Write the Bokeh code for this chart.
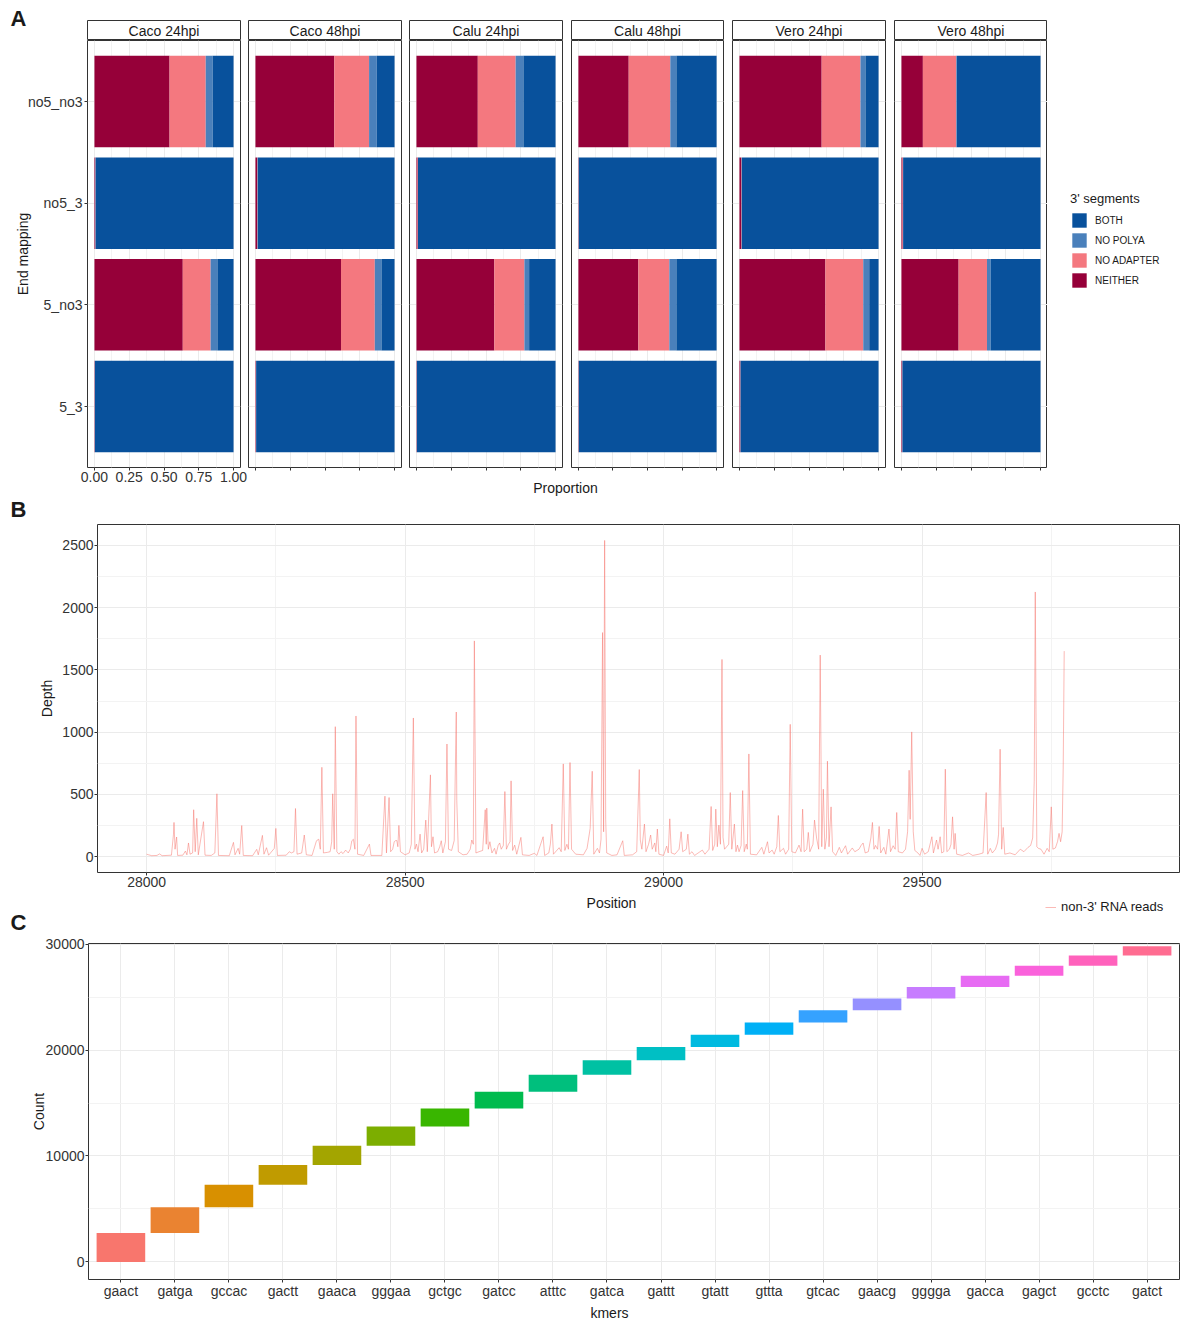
import numpy as np
from bokeh.plotting import figure
from bokeh.models import (Range1d, FixedTicker, LinearAxis, Grid, Legend, LegendItem,
                          ColumnDataSource, NumeralTickFormatter)
from bokeh.layouts import row, column
from bokeh.embed import file_html
from bokeh.resources import INLINE
from bokeh.core.properties import value

FONT = "Liberation Sans"

# ---------------- Panel A data ----------------
samples = ["Caco 24hpi", "Caco 48hpi", "Calu 24hpi", "Calu 48hpi", "Vero 24hpi", "Vero 48hpi"]
end_mapping = ["no5_no3", "no5_3", "5_no3", "5_3"]
segments = ["NEITHER", "NO ADAPTER", "NO POLYA", "BOTH"]
# proportions: one row per sample, columns follow end_mapping
neither = [[0.540, 0.005, 0.635, 0.002],
           [0.567, 0.012, 0.615, 0.003],
           [0.441, 0.008, 0.560, 0.002],
           [0.364, 0.002, 0.434, 0.002],
           [0.591, 0.012, 0.618, 0.006],
           [0.154, 0.008, 0.411, 0.005]]
no_adapter = [[0.260, 0.003, 0.200, 0.001],
              [0.250, 0.003, 0.243, 0.002],
              [0.272, 0.003, 0.216, 0.001],
              [0.301, 0.001, 0.224, 0.001],
              [0.279, 0.004, 0.272, 0.002],
              [0.240, 0.004, 0.204, 0.002]]
no_polya = [[0.050, 0.000, 0.049, 0.000],
            [0.055, 0.001, 0.048, 0.000],
            [0.056, 0.000, 0.034, 0.000],
            [0.044, 0.000, 0.051, 0.000],
            [0.036, 0.000, 0.043, 0.000],
            [0.004, 0.000, 0.027, 0.000]]
both = [[0.150, 0.992, 0.116, 0.997],
        [0.128, 0.984, 0.094, 0.995],
        [0.231, 0.989, 0.190, 0.997],
        [0.291, 0.997, 0.291, 0.997],
        [0.094, 0.984, 0.067, 0.992],
        [0.602, 0.988, 0.358, 0.993]]
prop_ticks = [0.0, 0.25, 0.5, 0.75, 1.0]

# ---------------- Panel B data ----------------
depth_pos = [
    28000, 28004, 28010, 28020, 28025, 28030, 28048, 28052, 28053, 28055,
    28058, 28060, 28070, 28075, 28078, 28081, 28084, 28089, 28091, 28094,
    28097, 28100, 28110, 28113, 28125, 28132, 28136, 28139, 28160, 28168,
    28171, 28177, 28180, 28184, 28187, 28205, 28213, 28216, 28224, 28227,
    28232, 28236, 28247, 28250, 28253, 28270, 28276, 28280, 28285, 28288,
    28291, 28300, 28305, 28309, 28320, 28328, 28330, 28333, 28336, 28339,
    28342, 28350, 28355, 28358, 28360, 28363, 28365, 28368, 28372, 28376,
    28380, 28385, 28390, 28394, 28397, 28400, 28403, 28405, 28408, 28420,
    28431, 28434, 28455, 28461, 28464, 28469, 28472, 28476, 28479, 28481,
    28484, 28486, 28488, 28491, 28500, 28508, 28512, 28516, 28519, 28522,
    28525, 28529, 28532, 28536, 28540, 28543, 28549, 28551, 28554, 28557,
    28563, 28567, 28570, 28573, 28578, 28581, 28584, 28590, 28595, 28599,
    28600, 28603, 28612, 28620, 28626, 28629, 28632, 28634, 28637, 28643,
    28650, 28655, 28657, 28658, 28661, 28664, 28668, 28673, 28676, 28680,
    28683, 28686, 28690, 28693, 28696, 28700, 28703, 28705, 28708, 28712,
    28716, 28724, 28727, 28740, 28750, 28755, 28767, 28770, 28778, 28781,
    28784, 28787, 28798, 28802, 28806, 28809, 28813, 28816, 28819, 28822,
    28826, 28830, 28845, 28852, 28858, 28862, 28865, 28872, 28876, 28879,
    28882, 28884, 28886, 28888, 28890, 28900, 28910, 28921, 28924, 28940,
    28948, 28953, 28955, 28958, 28963, 28966, 28971, 28975, 28978, 28983,
    28985, 28988, 28991, 29000, 29006, 29009, 29012, 29015, 29022, 29030,
    29034, 29037, 29044, 29047, 29050, 29055, 29060, 29075, 29080, 29088,
    29092, 29095, 29099, 29101, 29104, 29107, 29110, 29113, 29115, 29118,
    29122, 29126, 29129, 29132, 29137, 29140, 29143, 29146, 29150, 29153,
    29156, 29160, 29162, 29165, 29168, 29180, 29190, 29194, 29201, 29204,
    29210, 29214, 29219, 29222, 29225, 29232, 29236, 29242, 29245, 29248,
    29255, 29262, 29266, 29269, 29272, 29277, 29280, 29283, 29289, 29292,
    29296, 29300, 29303, 29306, 29309, 29312, 29315, 29317, 29320, 29324,
    29327, 29333, 29340, 29344, 29352, 29356, 29365, 29370, 29378, 29382,
    29386, 29390, 29396, 29401, 29404, 29407, 29410, 29414, 29417, 29420,
    29426, 29430, 29436, 29439, 29444, 29448, 29451, 29454, 29462, 29468,
    29472, 29475, 29477, 29480, 29483, 29486, 29492, 29496, 29500, 29505,
    29512, 29519, 29522, 29528, 29531, 29535, 29538, 29542, 29545, 29548,
    29553, 29556, 29559, 29562, 29564, 29567, 29578, 29590, 29598, 29610,
    29618, 29624, 29627, 29632, 29636, 29642, 29646, 29648, 29651, 29654,
    29657, 29660, 29670, 29680, 29690, 29697, 29705, 29710, 29714, 29717,
    29719, 29722, 29725, 29730, 29736, 29742, 29746, 29750, 29753, 29758,
    29762, 29765, 29768, 29771, 29773, 29775,
]
depth_val = [
    20, 15, 8, 10, 22, 8, 12, 180, 275, 60,
    158, 10, 12, 45, 15, 110, 20, 30, 377, 40,
    308, 15, 281, 12, 10, 30, 505, 10, 8, 115,
    15, 67, 20, 250, 10, 8, 59, 15, 171, 20,
    72, 12, 67, 227, 10, 12, 40, 30, 40, 387,
    20, 30, 174, 15, 10, 120, 134, 140, 60, 718,
    30, 35, 40, 120, 505, 60, 1044, 40, 20, 40,
    25, 53, 30, 60, 128, 140, 60, 1130, 20, 10,
    101, 10, 10, 486, 30, 475, 40, 60, 120, 128,
    130, 80, 251, 40, 15, 30, 100, 1114, 60, 101,
    40, 181, 30, 60, 294, 40, 657, 80, 160, 30,
    40, 80, 128, 30, 120, 905, 60, 50, 130, 1162,
    451, 40, 15, 20, 60, 134, 100, 1733, 30, 40,
    50, 377, 100, 390, 60, 120, 30, 67, 20, 90,
    110, 60, 90, 523, 60, 100, 120, 609, 50, 93,
    20, 155, 15, 10, 27, 10, 160, 10, 30, 100,
    262, 20, 72, 40, 745, 50, 100, 60, 756, 60,
    40, 20, 15, 67, 227, 686, 20, 67, 30, 140,
    1800, 200, 2540, 300, 30, 10, 15, 128, 10, 15,
    40, 700, 134, 60, 262, 40, 100, 174, 60, 110,
    40, 222, 20, 10, 85, 30, 304, 30, 20, 60,
    200, 40, 60, 181, 20, 40, 10, 53, 20, 60,
    403, 50, 100, 382, 80, 254, 100, 1584, 155, 60,
    80, 100, 515, 60, 262, 40, 93, 40, 90, 531,
    40, 101, 60, 825, 20, 15, 75, 20, 120, 30,
    53, 20, 80, 331, 40, 67, 20, 60, 1063, 40,
    30, 93, 40, 382, 40, 60, 195, 40, 100, 294,
    150, 60, 1619, 80, 542, 60, 150, 767, 80, 400,
    40, 10, 75, 30, 88, 20, 70, 40, 60, 90,
    110, 30, 40, 150, 275, 60, 90, 60, 243, 30,
    75, 20, 222, 40, 88, 60, 355, 40, 30, 60,
    200, 694, 300, 1002, 200, 50, 30, 10, 67, 20,
    40, 160, 30, 134, 60, 160, 30, 40, 703, 40,
    60, 100, 320, 60, 187, 20, 10, 30, 10, 20,
    30, 515, 20, 67, 30, 60, 110, 180, 863, 60,
    235, 20, 30, 15, 60, 40, 75, 90, 150, 604,
    2126, 80, 67, 60, 20, 67, 40, 400, 60, 70,
    120, 187, 120, 200, 703, 1651,
]
depth_xticks = [28000, 28500, 29000, 29500]
depth_yticks = [0, 500, 1000, 1500, 2000, 2500]

# ---------------- Panel C data ----------------
kmers = ["gaact", "gatga", "gccac", "gactt", "gaaca", "gggaa", "gctgc", "gatcc", "atttc", "gatca",
         "gattt", "gtatt", "gttta", "gtcac", "gaacg", "gggga", "gacca", "gagct", "gcctc", "gatct"]
kmer_counts = [2720, 2440, 2120, 1875, 1820, 1810, 1690, 1595, 1595, 1380,
               1245, 1155, 1160, 1155, 1095, 1090, 1070, 940, 965, 870]
count_ticks = [0, 10000, 20000, 30000]

# ---------------- styles ----------------
seg_colors = {"NEITHER": "#960039", "NO ADAPTER": "#F4787F", "NO POLYA": "#4A80BB", "BOTH": "#08519C"}
kmer_palette = ["#F8766D", "#EA8331", "#D89000", "#C09B00", "#A3A500", "#7CAE00", "#39B600",
                "#00BB4E", "#00BF7D", "#00C1A3", "#00BFC4", "#00BAE0", "#00B0F6", "#35A2FF",
                "#9590FF", "#C77CFF", "#E76BF3", "#FA62DB", "#FF62BC", "#FF6C91"]
DEPTH_COLOR = "#F8766D"
DEPTH_ALPHA = 0.5
GRID_MAJ = "#EBEBEB"
GRID_MIN = "#F3F3F3"
BORDER = "#333333"
TICK_TXT = "#333333"
TITLE_TXT = "#1A1A1A"
TOTAL_W = 1180
NAN = float("nan")


def drop_default_grids(f):
    f.center = [c for c in f.center if not isinstance(c, Grid)]


def new_fig(**kw):
    p = figure(toolbar_location=None, output_backend="svg",
               x_axis_location=None, y_axis_location=None, **kw)
    drop_default_grids(p)
    p.outline_line_color = BORDER
    p.outline_line_width = 1
    p.background_fill_color = "white"
    return p


def head_fig(w, h, margin_top=0):
    """Transparent figure whose frame fills it; used for free text (panel letters, titles, legends)."""
    f = figure(toolbar_location=None, output_backend="svg", x_axis_location=None, y_axis_location=None,
               frame_width=w, frame_height=h, min_border_left=0, min_border_right=0,
               min_border_top=0, min_border_bottom=0,
               x_range=Range1d(0, w), y_range=Range1d(h, 0))
    drop_default_grids(f)
    f.outline_line_color = None
    f.background_fill_color = None
    f.border_fill_color = None
    if margin_top:
        f.margin = (margin_top, 0, 0, 0)
    return f


def put_text(f, x, y, txt, size="14px", style="normal", align="center"):
    f.text(x=[x], y=[y], text=[txt], text_align=align, text_baseline="middle",
           text_font=value(FONT), text_font_size=size, text_font_style=style, text_color=TITLE_TXT)


def style_axis(ax, tick_out=3, standoff=0):
    ax.axis_line_color = None
    ax.major_tick_line_color = BORDER
    ax.major_tick_in = 0
    ax.major_tick_out = tick_out
    ax.minor_tick_line_color = None
    ax.major_label_standoff = standoff
    ax.major_label_text_font = FONT
    ax.major_label_text_font_size = "14px"
    ax.major_label_text_color = TICK_TXT
    ax.axis_label_text_font = FONT
    ax.axis_label_text_font_size = "14px"
    ax.axis_label_text_font_style = "normal"
    ax.axis_label_text_color = TITLE_TXT


def add_grid(p, dim, ticker):
    g = Grid(dimension=dim, ticker=ticker, grid_line_color=GRID_MAJ, grid_line_width=1,
             minor_grid_line_color=GRID_MIN, minor_grid_line_width=1)
    p.add_layout(g)


# ---------------- Panel A ----------------
headA = head_fig(TOTAL_W, 32)
put_text(headA, 10, 18, "A", size="22px", style="bold", align="left")

FRAME_W = [153, 153, 153, 152, 153, 153]
LEFT_B = [87, 0, 0, 0, 0, 0]
RIGHT_B = [8, 8, 9, 9, 9, 0]
prop_arrays = {"NEITHER": neither, "NO ADAPTER": no_adapter, "NO POLYA": no_polya, "BOTH": both}
PANEL_H = 427
PANEL_BOTTOM = 21
STRIP_H = 20

cols = []
for k, sample in enumerate(samples):
    s = new_fig(frame_width=FRAME_W[k], frame_height=STRIP_H, x_range=Range1d(0, 1), y_range=Range1d(0, 1),
                min_border_left=LEFT_B[k], min_border_right=RIGHT_B[k], min_border_top=0, min_border_bottom=0)
    s.border_fill_color = None
    s.text(x=[0.5], y=[0.5], text=[sample], text_align="center", text_baseline="middle",
           text_font=value(FONT), text_font_size="14px", text_color=TITLE_TXT)

    p = new_fig(frame_width=FRAME_W[k], frame_height=PANEL_H,
                x_range=Range1d(-0.05, 1.05), y_range=Range1d(len(end_mapping) - 0.4, -0.6),
                min_border_left=LEFT_B[k], min_border_right=RIGHT_B[k], min_border_top=0,
                min_border_bottom=PANEL_BOTTOM)
    xt = FixedTicker(ticks=prop_ticks, minor_ticks=[0.125, 0.375, 0.625, 0.875])
    yt = FixedTicker(ticks=list(range(len(end_mapping))))
    add_grid(p, 0, xt)
    add_grid(p, 1, yt)

    xa = LinearAxis(ticker=xt)
    style_axis(xa, tick_out=3, standoff=0)
    if k == 0:
        xa.formatter = NumeralTickFormatter(format="0.00")
    else:
        xa.major_label_overrides = {t: "" for t in prop_ticks}
    p.add_layout(xa, "below")
    if k == 0:
        ya = LinearAxis(ticker=yt, axis_label="End mapping",
                        major_label_overrides={i: m for i, m in enumerate(end_mapping)})
        style_axis(ya, tick_out=3, standoff=2)
        ya.axis_label_standoff = -6
        p.add_layout(ya, "left")

    cum = np.zeros(len(end_mapping))
    for seg in segments:
        vals = np.array(prop_arrays[seg][k])
        src = ColumnDataSource(dict(y=list(range(len(end_mapping))), left=cum, right=cum + vals))
        p.hbar(y="y", left="left", right="right", height=0.9, source=src,
               fill_color=seg_colors[seg], line_color=None)
        cum = cum + vals
    cols.append(column(s, p))

# legend of panel A in its own transparent figure to the right of the facets
legA_w = TOTAL_W - (sum(FRAME_W) + sum(LEFT_B) + sum(RIGHT_B))
legA_h = STRIP_H + PANEL_H + PANEL_BOTTOM
legA = head_fig(legA_w, legA_h)
leg_items = []
for seg in segments[::-1]:
    # legend proxy: a single NaN bar (draws nothing, only provides the legend swatch)
    r = legA.hbar(y=[NAN], left=[NAN], right=[NAN], height=0.9, fill_color=seg_colors[seg], line_color=None)
    leg_items.append(LegendItem(label=seg, renderers=[r]))
legA.add_layout(Legend(items=leg_items, location=(23, legA_h - 269), title="3' segments",
                       title_text_font=FONT, title_text_font_size="13px", title_text_font_style="normal",
                       title_text_color=TITLE_TXT, title_standoff=5, label_text_font=FONT,
                       label_text_font_size="10px", label_text_color=TITLE_TXT, glyph_width=18,
                       glyph_height=18, label_height=18, label_standoff=7, spacing=2, padding=0, margin=0,
                       border_line_color=None, background_fill_alpha=0))

rowA = row(*cols, legA)
rowA.margin = (-12, 0, 0, 0)

# ---------------- Panel B ----------------
headB = head_fig(TOTAL_W, 48)
put_text(headB, 565, 11, "Proportion")
put_text(headB, 10, 33, "B", size="22px", style="bold", align="left")
rowHB = row(headB)
rowHB.margin = (-12, 0, 0, 0)

pb = new_fig(frame_width=TOTAL_W - 98, frame_height=348, x_range=Range1d(27905, 29998),
             y_range=Range1d(-127, 2668),
             min_border_left=97, min_border_right=1, min_border_top=0, min_border_bottom=21)
bxt = FixedTicker(ticks=depth_xticks, minor_ticks=[28250, 28750, 29250, 29750])
byt = FixedTicker(ticks=depth_yticks, minor_ticks=[250, 750, 1250, 1750, 2250])
add_grid(pb, 0, bxt)
add_grid(pb, 1, byt)
bxa = LinearAxis(ticker=bxt)
style_axis(bxa, tick_out=3, standoff=0)
pb.add_layout(bxa, "below")
bya = LinearAxis(ticker=byt, axis_label="Depth")
style_axis(bya, tick_out=3, standoff=0)
bya.axis_label_standoff = 4
pb.add_layout(bya, "left")
pb.line(x=depth_pos, y=depth_val, line_color=DEPTH_COLOR, line_alpha=DEPTH_ALPHA, line_width=1)

# x title of B, legend of B and panel letter C
HC_H = 42
headC = head_fig(TOTAL_W, HC_H)
put_text(headC, 611, 9, "Position")
put_text(headC, 10, 29, "C", size="22px", style="bold", align="left")
rleg = headC.line(x=[NAN], y=[NAN], line_color=DEPTH_COLOR, line_alpha=DEPTH_ALPHA, line_width=1)
headC.add_layout(Legend(items=[LegendItem(label="non-3' RNA reads", renderers=[rleg])],
                        location=(1045, HC_H - 21), label_text_font=FONT, label_text_font_size="13px",
                        label_text_color=TITLE_TXT, glyph_width=11, glyph_height=14, label_height=14,
                        label_standoff=5, padding=0, margin=0, border_line_color=None,
                        background_fill_alpha=0))

# ---------------- Panel C ----------------
pc = new_fig(frame_width=TOTAL_W - 89, frame_height=336, x_range=Range1d(-0.6, len(kmers) - 0.4),
             y_range=Range1d(-1660, 30056),
             min_border_left=88, min_border_right=1, min_border_top=8, min_border_bottom=21)
cxt = FixedTicker(ticks=list(range(len(kmers))))
cyt = FixedTicker(ticks=count_ticks, minor_ticks=[5000, 15000, 25000])
add_grid(pc, 0, cxt)
add_grid(pc, 1, cyt)
cxa = LinearAxis(ticker=cxt, major_label_overrides={i: km for i, km in enumerate(kmers)})
style_axis(cxa, tick_out=3, standoff=0)
pc.add_layout(cxa, "below")
cya = LinearAxis(ticker=cyt, axis_label="Count")
style_axis(cya, tick_out=3, standoff=0)
cya.axis_label_standoff = -4
pc.add_layout(cya, "left")
ends = np.cumsum(kmer_counts)
starts = ends - np.array(kmer_counts)
csrc = ColumnDataSource(dict(x=list(range(len(kmers))), bottom=starts, top=ends, color=kmer_palette))
pc.vbar(x="x", bottom="bottom", top="top", width=0.9, source=csrc, fill_color="color", line_color=None)

footC = head_fig(TOTAL_W, 20)
put_text(footC, 609, 11, "kmers")

layout = column(row(headA), rowA, rowHB, row(pb), row(headC), row(pc), row(footC))
open("out.html", "w").write(file_html(layout, INLINE))
